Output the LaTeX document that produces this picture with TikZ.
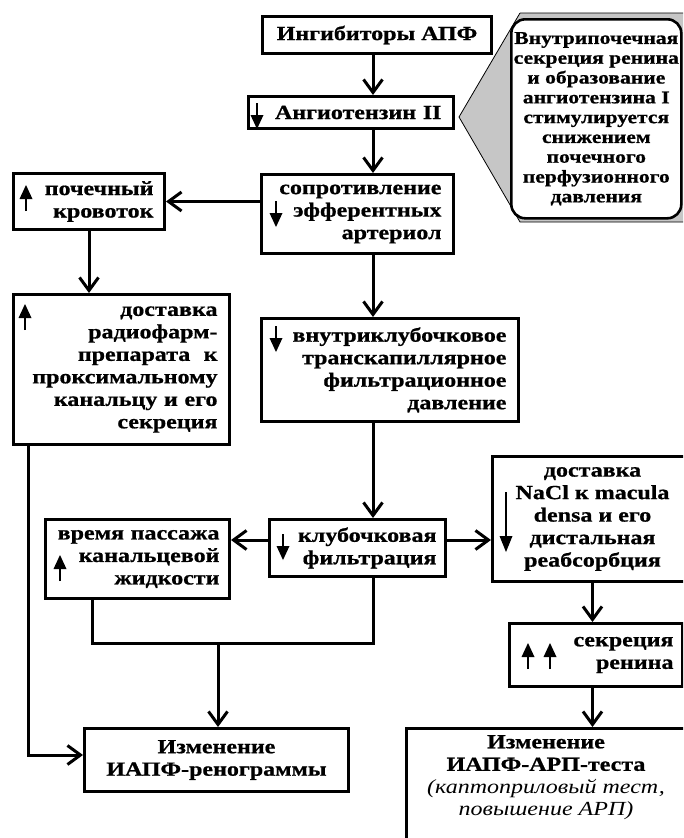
\documentclass[tikz,border=0pt]{standalone}
\usepackage{fontspec}
\setmainfont{Liberation Serif}[FakeStretch=1.2, BoldFeatures={FakeBold=0.8}]
\usetikzlibrary{arrows.meta}
\begin{document}
\begin{tikzpicture}[x=1pt,y=-1pt,
  box/.style={draw, line width=3pt, fill=white, inner sep=0pt, anchor=north west,
    font=\bfseries\fontsize{20}{22.5}\selectfont},
  conn/.style={line width=3pt, -{Straight Barb[length=13pt,width=19pt,line width=3pt]}},
  plain/.style={line width=3pt},
  downarr/.pic={\draw[line width=2.8pt] (0,0) -- (0,16); \fill (-6.5,12) -- (6.5,12) -- (0,26) -- cycle;},
  uparr/.pic={\draw[line width=2.8pt] (0,0) -- (0,-16); \fill (-6.5,-12) -- (6.5,-12) -- (0,-26) -- cycle;},
  longdown/.pic={\draw[line width=1.6pt] (0,0) -- (0,46); \fill (-6.5,44) -- (6.5,44) -- (0,60) -- cycle;},
]
\useasboundingbox (0,0) rectangle (683,838);
\clip (0,0) rectangle (683,838);

% callout
\fill[gray!45] (520,13) -- (690,13) -- (690,222) -- (520,222) -- (459,117) -- cycle;
\draw[line width=0.8pt] (520,13) -- (690,13) (690,222) -- (520,222) -- (459,117) -- (520,13);
\node[draw, line width=2.6pt, fill=white, rounded corners=14pt, inner sep=0pt, anchor=north west,
  minimum width=170pt, minimum height=199pt, align=center,
  font=\bfseries\fontsize{18}{19.8}\selectfont] (call) at (510,18)
  {Внутрипочечная\\секреция ренина\\и образование\\ангиотензина I\\стимулируется\\снижением\\почечного\\перфузионного\\давления};

% boxes
\node[box, minimum width=229pt, minimum height=37pt, align=center] (b1) at (261,15) {Ингибиторы АПФ};
\node[box, minimum width=205pt, minimum height=32pt, text width=181pt, align=right] (b2) at (247,95) {Ангиотензин II};
\node[box, minimum width=192pt, minimum height=79pt, text width=168pt, align=right] (b3) at (260,173) {сопротивление\\эфферентных\\артериол};
\node[box, minimum width=151pt, minimum height=56pt, text width=129pt, align=right] (b4) at (12,172) {почечный\\кровоток};
\node[box, minimum width=216pt, minimum height=150pt, text width=192pt, align=right] (b5) at (12,293) {доставка\\радиофарм-\\препарата~~к\\проксимальному\\канальцу и его\\секреция};
\node[box, minimum width=257pt, minimum height=103pt, text width=233pt, align=right] (b6) at (260,317) {внутриклубочковое\\транскапиллярное\\фильтрационное\\давление};
\node[box, minimum width=176pt, minimum height=57pt, text width=158pt, align=right] (b7) at (268,518) {клубочковая\\фильтрация};
\node[box, minimum width=184pt, minimum height=79pt, text width=164pt, align=right] (b8) at (44,518) {\mbox{время пассажа}\\канальцевой\\жидкости};
\node[box, minimum width=200pt, minimum height=125pt, align=center] (b9) at (491,455) {доставка\\NaCl к macula\\densa и его\\дистальная\\реабсорбция};
\node[box, minimum width=173pt, minimum height=63pt, text width=155pt, align=right] (b10) at (508,622) {секреция\\ренина};
\node[box, minimum width=264pt, minimum height=63pt, align=center] (b11) at (83,727) {Изменение\\ИАПФ-ренограммы};
\node[box, minimum width=282pt, minimum height=200pt] (b12) at (405,727) {};
\node[anchor=north, inner sep=0pt, align=center, font=\bfseries\fontsize{20}{22.5}\selectfont] (b12t) at (546,735)
  {Изменение\\ИАПФ-АРП-теста\\\textmd{\textit{(каптоприловый тест,}}\\\textmd{\textit{повышение АРП)}}};

% small arrows inside boxes
\pic at (257,103) {downarr};
\pic at (276,201) {downarr};
\pic at (26,211) {uparr};
\pic at (25,330) {uparr};
\pic at (276,326) {downarr};
\pic at (283,534) {downarr};
\pic at (60,581) {uparr};
\pic at (506,492) {longdown};
\pic at (528,669) {uparr};
\pic at (550,669) {uparr};

% connectors
\coordinate (ax) at (373,0);
\coordinate (ay) at (0,540);
\draw[conn] (b1.south -| ax) -- (b2.north -| ax);
\draw[conn] (b2.south -| ax) -- (b3.north -| ax);
\draw[conn] (b3.west |- b4.east) -- (b4.east);
\draw[conn] (b4.south) -- (b4.south |- b5.north);
\draw[conn] (b3.south -| ax) -- (b6.north -| ax);
\draw[conn] (b6.south -| ax) -- (b7.north -| ax);
\draw[conn] (b7.west |- ay) -- (b8.east |- ay);
\draw[conn] (b7.east |- ay) -- (b9.west |- ay);
\draw[conn] (b9.south) -- (b9.south |- b10.north);
\draw[conn] (b10.south -| b9.south) -- (b12.north -| b9.south);
\coordinate (jl) at (92,643);
\coordinate (jr) at (373,643);
\coordinate (jm) at (218,643);
\draw[plain] (b8.south -| jl) -- (jl) -- (jr) -- (b7.south -| jr);
\draw[conn] (jm) -- (jm |- b11.north);
\coordinate (cl) at (28,755);
\draw[conn] (b5.south -| cl) -- (cl) -- (cl -| b11.west);
\end{tikzpicture}
\end{document}
